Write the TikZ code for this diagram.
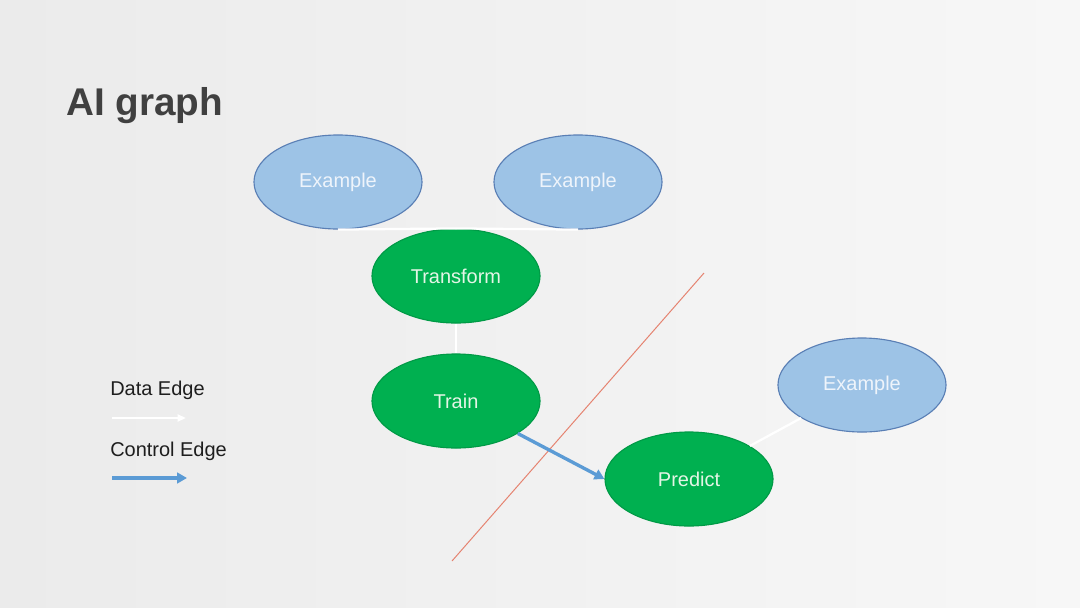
\documentclass[tikz,border=0pt]{standalone}
\usepackage{fontspec}
\setmainfont{Liberation Sans}
\usetikzlibrary{shapes.geometric,arrows.meta}
\definecolor{bgL}{HTML}{EBEBEB}
\definecolor{bgR}{HTML}{F7F7F7}
\definecolor{blueFill}{HTML}{9DC3E6}
\definecolor{blueLine}{HTML}{5A7FB5}
\definecolor{blueText}{HTML}{EEF4FB}
\definecolor{greenFill}{HTML}{00B050}
\definecolor{greenLine}{HTML}{009A46}
\definecolor{greenText}{HTML}{E4F5E6}
\definecolor{ctrlBlue}{HTML}{5B9BD5}
\definecolor{redLine}{HTML}{E5826F}
\definecolor{titleGray}{HTML}{404040}
\definecolor{legendText}{HTML}{1E1E1E}
\tikzset{
  exnode/.style={ellipse, draw=blueLine, line width=0.8pt, fill=blueFill,
    minimum width=4.2cm, minimum height=2.35cm, inner sep=0pt,
    text=blueText, font=\fontsize{14.2pt}{16pt}\selectfont},
  opnode/.style={ellipse, draw=greenLine, line width=0.8pt, fill=greenFill,
    minimum width=4.2cm, minimum height=2.35cm, inner sep=0pt,
    text=greenText, font=\fontsize{14.2pt}{16pt}\selectfont},
  dataedge/.style={draw=white, line width=1.6pt},
  ctrledge/.style={draw=ctrlBlue, line width=2.4pt, -{Triangle[length=7pt,width=7.5pt]}},
  legendlabel/.style={anchor=base west, inner sep=0pt, text=legendText,
    font=\fontsize{14.2pt}{16pt}\selectfont},
}
\begin{document}
\begin{tikzpicture}[x=0.025cm, y=-0.025cm]
  \shade[left color=bgL, right color=bgR] (0,0) rectangle (1080,607);
  \useasboundingbox (0,0) rectangle (1080,607);
  % title
  \node[anchor=base west, inner sep=0pt, text=titleGray,
    font=\fontsize{27.5pt}{32pt}\selectfont\bfseries] (title) at (66,115) {AI graph};
  % red separator line
  \draw[redLine, line width=0.7pt] (452,561) -- (704,273);
  % nodes
  \node[exnode] (ex1) at (338,182) {\raisebox{-2pt}{Example}};
  \node[exnode] (ex2) at (578,182) {\raisebox{-2pt}{Example}};
  \node[opnode] (tr) at (456,276) {Transform};
  \node[opnode] (train) at (456,401) {Train};
  \node[opnode] (pred) at (689,479) {Predict};
  \node[exnode] (ex3) at (862,385) {\raisebox{-2pt}{Example}};
  % data edges
  \draw[dataedge] (ex1.south) -- (tr.north);
  \draw[dataedge] (ex2.south) -- (tr.north);
  \draw[dataedge] (tr.south) -- (train.north);
  \draw[dataedge] (pred) -- (ex3);
  % control edge
  \draw[ctrledge] (train) -- (pred.west);
  % legend
  \node[legendlabel] (ldata) at (110,395) {Data Edge};
  \node[legendlabel] (lctrl) at (110,456) {Control Edge};
  \coordinate (d1) at (112,418);
  \coordinate (d2) at (186,418);
  \coordinate (c1) at (112,478);
  \coordinate (c2) at (187,478);
  \draw[draw=white, line width=1.6pt, -{Triangle[length=6pt,width=5pt]}] (d1) -- (d2);
  \draw[ctrledge] (c1) -- (c2);
\end{tikzpicture}
\end{document}
